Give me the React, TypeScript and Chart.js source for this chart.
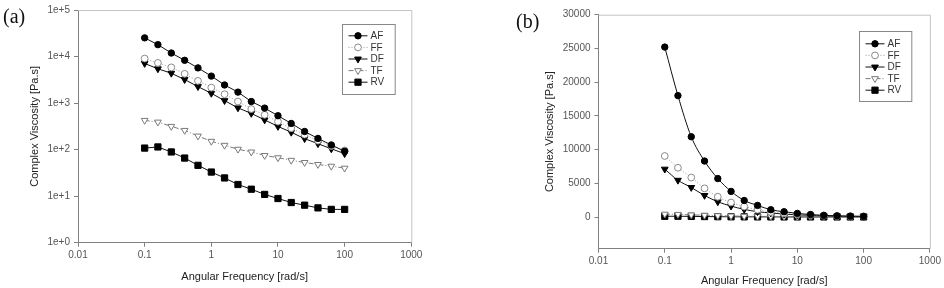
import React, { useEffect, useRef } from 'react';
import { Chart, registerables } from 'chart.js';
Chart.register(...registerables);

// ---------- data ----------
const FREQ = [0.1, 0.158, 0.251, 0.398, 0.631, 1, 1.58, 2.51, 3.98, 6.31, 10, 15.8, 25.1, 39.8, 63.1, 100];
const AF = [25200, 18000, 11900, 8300, 5700, 3800, 2450, 1720, 1080, 780, 535, 365, 245, 174, 126, 92];
const FF = [9050, 7300, 5850, 4250, 3000, 2150, 1550, 1080, 745, 560, 400, 288, 210, 156, 120, 96];
const DF = [7100, 5450, 4380, 3200, 2260, 1620, 1130, 790, 600, 435, 315, 236, 172, 134, 104, 82];
const TF = [425, 391, 316, 259, 196, 151, 124, 102, 89, 75, 67, 59, 53, 48, 44, 40];
const RV = [108, 114, 89, 66, 46, 33, 24.6, 17.8, 14.1, 10.9, 8.9, 7.3, 6.4, 5.6, 5.2, 5.2];
const SERIES_NAMES = ['AF', 'FF', 'DF', 'TF', 'RV'];
const SERIES_VALUES = [AF, FF, DF, TF, RV];

const X_TICKS = [0.01, 0.1, 1, 10, 100, 1000];
const X_TICK_LABELS = ['0.01', '0.1', '1', '10', '100', '1000'];
const Y_LOG_TICKS = [1, 10, 100, 1000, 10000, 100000];
const Y_LOG_LABELS = ['1e+0', '1e+1', '1e+2', '1e+3', '1e+4', '1e+5'];
const Y_LIN_TICKS = [0, 5000, 10000, 15000, 20000, 25000, 30000];
const Y_LIN_LABELS = ['0', '5000', '10000', '15000', '20000', '25000', '30000'];

const X_TITLE = 'Angular Frequency [rad/s]';
const Y_TITLE = 'Complex Viscosity [Pa.s]';

// ---------- styles ----------
const FONT = '"Liberation Sans", Arial, sans-serif';
const STYLES = [
  { ps: 'circle', r: 3.2, rot: 0, fill: '#000', stroke: '#000', line: '#111', dash: [] as number[] },
  { ps: 'circle', r: 3.4, rot: 0, fill: '#fff', stroke: '#8a8a8a', line: '#9a9a9a', dash: [1, 2] },
  { ps: 'triangle', r: 3.9, rot: 180, fill: '#000', stroke: '#000', line: '#111', dash: [] as number[] },
  { ps: 'triangle', r: 3.9, rot: 180, fill: '#fff', stroke: '#7a7a7a', line: '#7a7a7a', dash: [5, 2, 1, 2] },
  { ps: 'rect', r: 4.4, rot: 0, fill: '#000', stroke: '#000', line: '#111', dash: [] as number[] },
];

function drawMarker(ctx: CanvasRenderingContext2D, s: any, x: number, y: number) {
  ctx.save();
  ctx.beginPath();
  ctx.setLineDash([]);
  if (s.ps === 'circle') {
    ctx.arc(x, y, s.r, 0, Math.PI * 2);
  } else if (s.ps === 'triangle') {
    let rad = (s.rot * Math.PI) / 180;
    ctx.moveTo(x + Math.sin(rad) * s.r, y - Math.cos(rad) * s.r);
    rad += (2 * Math.PI) / 3;
    ctx.lineTo(x + Math.sin(rad) * s.r, y - Math.cos(rad) * s.r);
    rad += (2 * Math.PI) / 3;
    ctx.lineTo(x + Math.sin(rad) * s.r, y - Math.cos(rad) * s.r);
    ctx.closePath();
  } else {
    const h = Math.SQRT1_2 * s.r;
    ctx.rect(x - h, y - h, 2 * h, 2 * h);
  }
  ctx.fillStyle = s.fill;
  ctx.fill();
  ctx.lineWidth = 1;
  ctx.strokeStyle = s.stroke;
  ctx.stroke();
  ctx.restore();
}

const framePlugin = {
  id: 'frame',
  beforeDatasetsDraw(chart: any) {
    const { ctx, chartArea: a } = chart;
    ctx.save();
    ctx.strokeStyle = '#c4c4c4';
    ctx.lineWidth = 1;
    ctx.beginPath();
    ctx.moveTo(a.left, a.top + 0.5);
    ctx.lineTo(a.right + 0.5, a.top + 0.5);
    ctx.lineTo(a.right + 0.5, a.bottom);
    ctx.stroke();
    ctx.restore();
  },
};

const boxLegendPlugin = {
  id: 'boxLegend',
  afterDraw(chart: any, _args: any, o: any) {
    const { ctx, chartArea: a } = chart;
    const x0 = Math.round(a.right - o.right - o.width) + 0.5;
    const y0 = Math.round(a.top + o.top) + 0.5;
    ctx.save();
    ctx.fillStyle = '#fff';
    ctx.fillRect(x0, y0, o.width, o.height);
    ctx.strokeStyle = '#888';
    ctx.lineWidth = 1;
    ctx.strokeRect(x0, y0, o.width, o.height);
    chart.data.datasets.forEach((ds: any, i: number) => {
      const s = STYLES[i];
      const y = y0 + o.rowStart + i * o.rowGap;
      ctx.save();
      ctx.beginPath();
      ctx.strokeStyle = s.line;
      ctx.lineWidth = 1;
      ctx.setLineDash(s.dash);
      ctx.moveTo(x0 + 6, y);
      ctx.lineTo(x0 + 25, y);
      ctx.stroke();
      ctx.restore();
      drawMarker(ctx, s, x0 + 15.5, y);
      ctx.fillStyle = '#333';
      ctx.font = `10px ${FONT}`;
      ctx.textBaseline = 'middle';
      ctx.textAlign = 'left';
      ctx.fillText(ds.label, x0 + 28, y + 0.5);
    });
    ctx.restore();
  },
};

type Geo = {
  yWidth: number; padRight: number; padTop: number; xHeight: number;
  xTitlePad: number; yTitlePad: number; legend: any;
};

function makeConfig(kind: 'log' | 'lin', g: Geo): any {
  const isLog = kind === 'log';
  const datasets = SERIES_NAMES.map((name, i) => {
    const s = STYLES[i];
    return {
      label: name,
      data: FREQ.map((f, j) => ({ x: f, y: SERIES_VALUES[i][j] })),
      borderColor: s.line,
      borderWidth: 1,
      borderDash: s.dash,
      pointStyle: s.ps,
      pointRadius: s.r,
      pointRotation: s.rot,
      pointBackgroundColor: s.fill,
      pointBorderColor: s.stroke,
      pointBorderWidth: 1,
      fill: false,
      tension: isLog ? 0 : 0.4,
      cubicInterpolationMode: isLog ? 'default' : 'monotone',
    };
  });
  const yTicks = isLog ? Y_LOG_TICKS : Y_LIN_TICKS;
  const yLabels = isLog ? Y_LOG_LABELS : Y_LIN_LABELS;
  const axisCommon = {
    grid: { display: true, drawOnChartArea: false, drawTicks: true, tickLength: 4, color: '#808080' },
    border: { display: true, color: '#808080', width: 1 },
  };
  return {
    type: 'line',
    data: { datasets },
    options: {
      animation: false,
      responsive: false,
      events: [],
      layout: { padding: { left: 0, right: g.padRight, top: g.padTop, bottom: 0 } },
      plugins: { legend: { display: false }, tooltip: { enabled: false }, boxLegend: g.legend },
      scales: {
        x: {
          type: 'logarithmic',
          min: 0.01,
          max: 1000,
          ...axisCommon,
          afterBuildTicks: (s: any) => { s.ticks = X_TICKS.map((v) => ({ value: v })); },
          afterFit: (s: any) => { s.height = g.xHeight; },
          ticks: {
            autoSkip: false, maxRotation: 0, padding: 3, color: '#555',
            font: { size: 10, family: FONT },
            callback: (_v: any, i: number) => X_TICK_LABELS[i],
          },
          title: {
            display: true, text: X_TITLE, color: '#222',
            font: { size: 11, family: FONT }, padding: { top: 0, bottom: g.xTitlePad },
          },
        },
        y: {
          type: isLog ? 'logarithmic' : 'linear',
          min: isLog ? 1 : -4700,
          max: isLog ? 100000 : 30000,
          ...axisCommon,
          afterBuildTicks: (s: any) => { s.ticks = yTicks.map((v) => ({ value: v })); },
          afterFit: (s: any) => { s.width = g.yWidth; },
          ticks: {
            autoSkip: false, padding: 4, color: '#555',
            font: { size: 10, family: FONT },
            callback: (_v: any, i: number) => yLabels[i],
          },
          title: {
            display: true, text: Y_TITLE, color: '#222',
            font: { size: 11, family: FONT }, padding: { top: g.yTitlePad, bottom: 0 },
          },
        },
      },
    },
    plugins: [framePlugin, boxLegendPlugin],
  };
}

function Panel({ kind, geo, left }: { kind: 'log' | 'lin'; geo: Geo; left: number }) {
  const ref = useRef<HTMLCanvasElement>(null);
  useEffect(() => {
    if (!ref.current) return;
    const chart = new Chart(ref.current, makeConfig(kind, geo));
    return () => chart.destroy();
  }, []);
  return (
    <canvas
      ref={ref}
      width={472}
      height={288}
      style={{ position: 'absolute', left, top: 0, width: 472, height: 288 }}
    />
  );
}

const GEO_A: Geo = {
  yWidth: 78, padRight: 60.7, padTop: 9.3, xHeight: 45.3, xTitlePad: 4.7, yTitlePad: 28.4,
  legend: { right: 16.6, top: 14, width: 52.7, height: 70, rowStart: 11.3, rowGap: 11.6 },
};
const GEO_B: Geo = {
  yWidth: 126.5, padRight: 13.3, padTop: 14.7, xHeight: 39.3, xTitlePad: 0.4, yTitlePad: 71.4,
  legend: { right: 18.4, top: 16.3, width: 52.3, height: 70, rowStart: 12.3, rowGap: 11.6 },
};

export default function App() {
  const labelStyle: React.CSSProperties = {
    position: 'absolute', fontFamily: '"Liberation Serif", "Times New Roman", serif',
    fontSize: 20, lineHeight: '20px', color: '#111', whiteSpace: 'nowrap',
  };
  return (
    <div style={{ position: 'absolute', left: 0, top: 0, width: 944, height: 288, background: '#fff', overflow: 'hidden' }}>
      <Panel kind="log" geo={GEO_A} left={0} />
      <Panel kind="lin" geo={GEO_B} left={472} />
      <div style={{ ...labelStyle, left: 3, top: 5.5 }}>(a)</div>
      <div style={{ ...labelStyle, left: 516, top: 10.5 }}>(b)</div>
    </div>
  );
}
